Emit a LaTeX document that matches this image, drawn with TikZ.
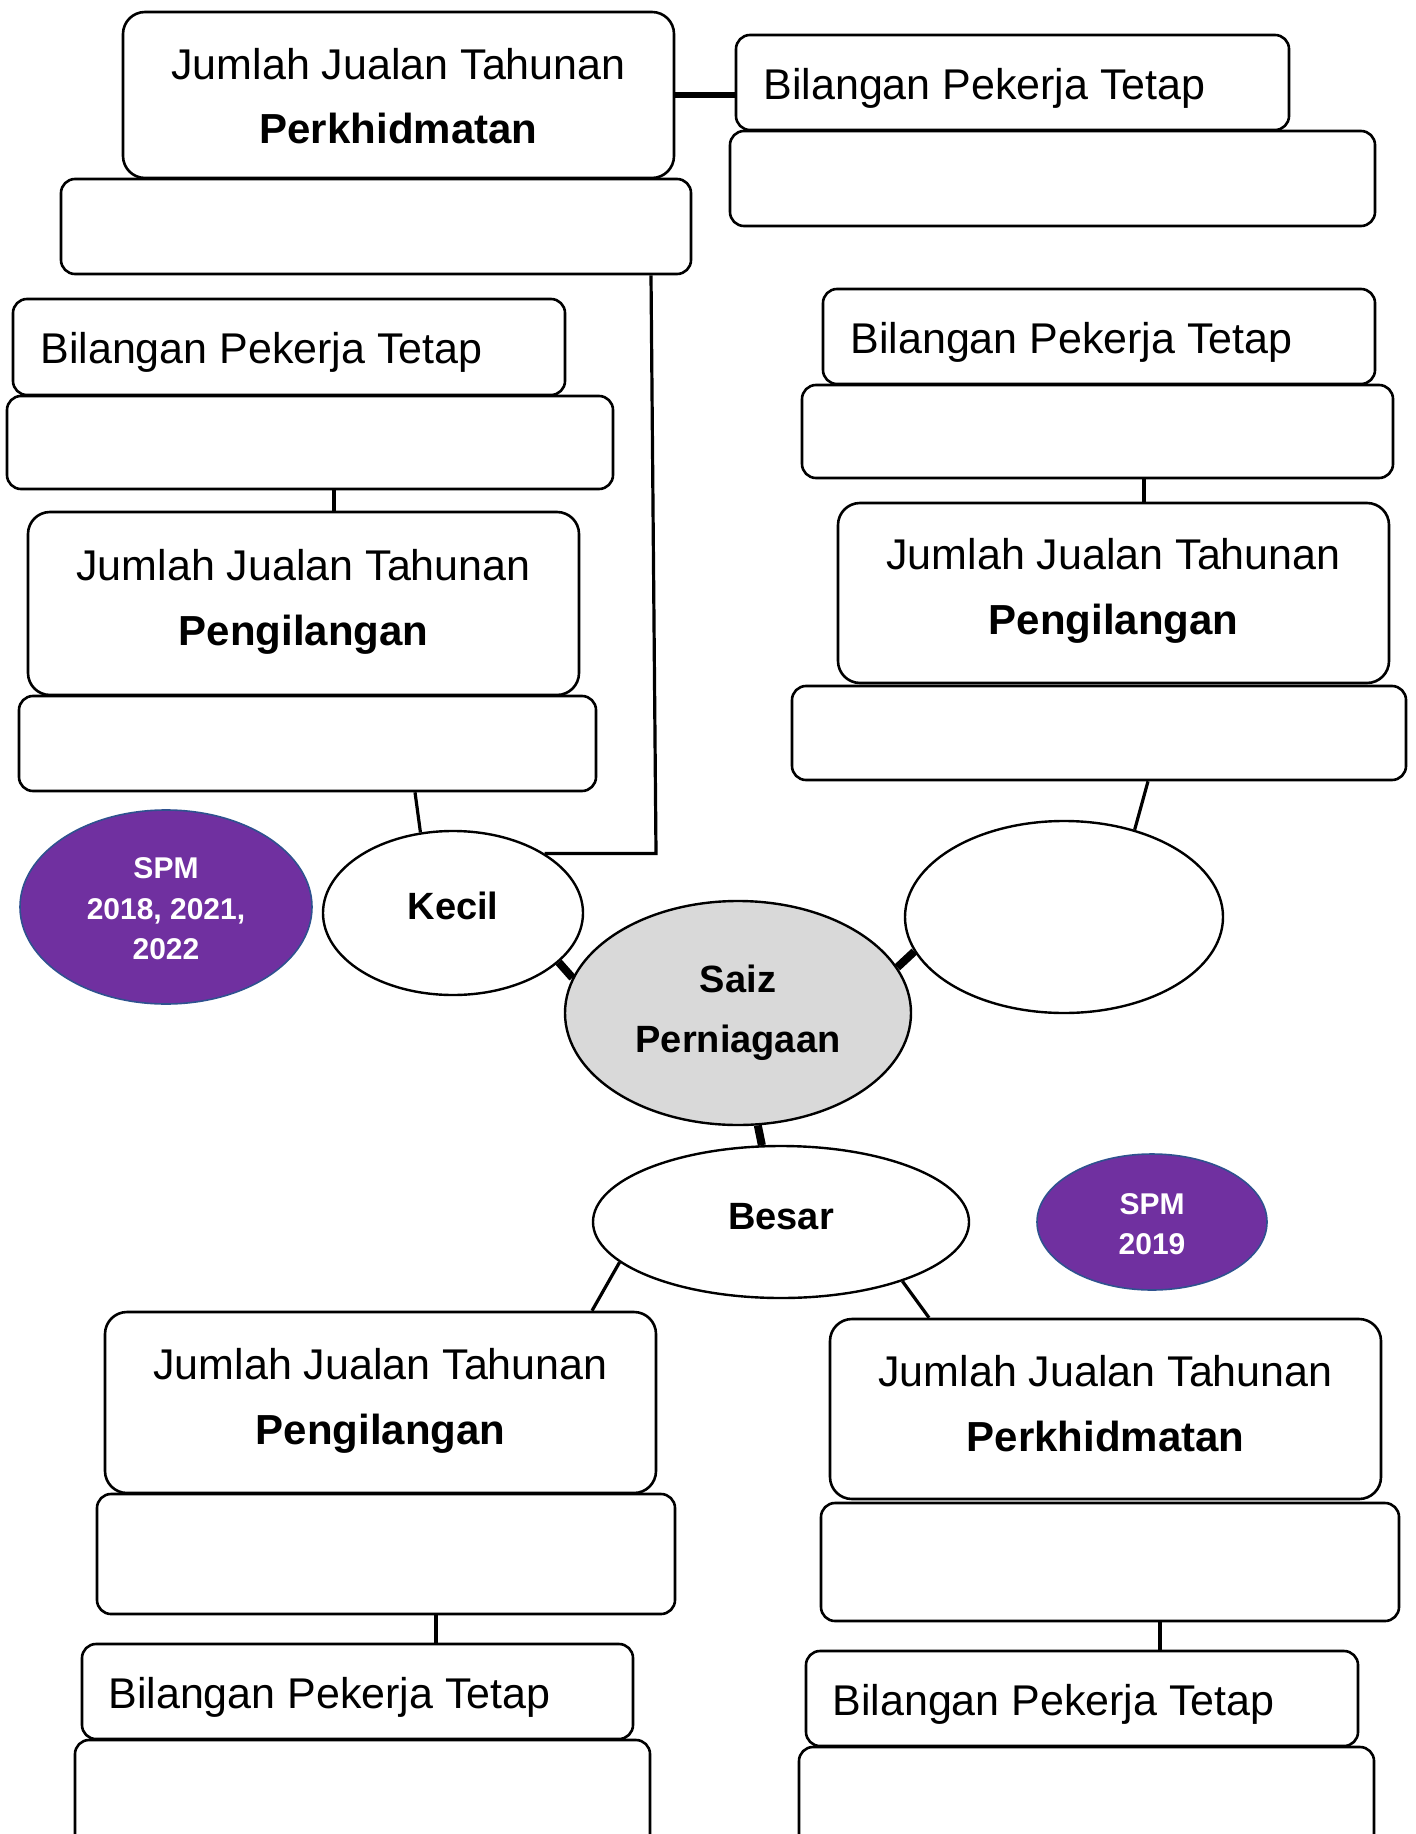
\documentclass[tikz,border=0pt]{standalone}
\usepackage{fontspec}
\setmainfont{Liberation Sans}
\usetikzlibrary{shapes.geometric}
\definecolor{spmpurple}{RGB}{112,48,160}
\definecolor{spmedge}{RGB}{47,82,143}
\definecolor{saizgray}{RGB}{217,217,217}
\begin{document}
\begin{tikzpicture}[x=0.5pt,y=-0.5pt,
  box/.style={draw=black, line width=1.3pt, rounded corners=7pt, fill=white, inner sep=0pt},
  bigbox/.style={box, rounded corners=11pt},
  oval/.style={ellipse, draw=black, line width=1.2pt, fill=white, inner sep=0pt},
  spm/.style={ellipse, draw=spmedge, line width=0.8pt, fill=spmpurple, inner sep=0pt},
  lbl/.style={font=\fontsize{21.5}{26}\selectfont, inner sep=0pt, anchor=base},
  lbll/.style={lbl, anchor=base west},
  blbl/.style={font=\fontsize{21}{26}\selectfont\bfseries, inner sep=0pt, anchor=base},
  olbl/.style={font=\fontsize{19}{23}\selectfont\bfseries, inner sep=0pt, anchor=base},
  wlbl/.style={font=\fontsize{15}{18}\selectfont\bfseries, text=white, inner sep=0pt, anchor=base},
  lk/.style={line width=1.6pt},
  lkm/.style={line width=2.6pt},
  lkb/.style={line width=4pt}
]
\useasboundingbox (0,0) rectangle (1415,1834);

% empty answer boxes
\node[box, minimum width=315pt, minimum height=47.5pt] (A2) at (376,226.5) {};
\node[box, minimum width=322.5pt, minimum height=47.5pt] (B2) at (1052.5,178.5) {};
\node[box, minimum width=303pt, minimum height=46.5pt] (C2) at (310,442.5) {};
\node[box, minimum width=288.5pt, minimum height=47.5pt] (D2) at (307.5,743.5) {};
\node[box, minimum width=295.5pt, minimum height=46.5pt] (E2) at (1097.5,431.5) {};
\node[box, minimum width=307pt, minimum height=47pt] (F2) at (1099,733) {};
\node[box, minimum width=289pt, minimum height=60pt] (G2) at (386,1554) {};
\node[box, minimum width=287.5pt, minimum height=55pt] (H2) at (362.5,1795) {};
\node[box, minimum width=289pt, minimum height=59pt] (I2) at (1110,1562) {};
\node[box, minimum width=287.5pt, minimum height=51.5pt] (J2) at (1086.5,1798.5) {};

% labelled boxes
\node[bigbox, minimum width=275.5pt, minimum height=83pt] (A) at (398.5,95) {};
\node[box, minimum width=276.5pt, minimum height=47.5pt] (B) at (1012.5,82.5) {};
\node[box, minimum width=276pt, minimum height=48pt] (C) at (289,347) {};
\node[bigbox, minimum width=275.5pt, minimum height=91.5pt] (D) at (303.5,603.5) {};
\node[box, minimum width=276pt, minimum height=47.5pt] (E) at (1099,336.5) {};
\node[bigbox, minimum width=275.5pt, minimum height=90pt] (F) at (1113.5,593) {};
\node[bigbox, minimum width=275.5pt, minimum height=90.5pt] (G) at (380.5,1402.5) {};
\node[box, minimum width=275.5pt, minimum height=47.5pt] (H) at (357.5,1691.5) {};
\node[bigbox, minimum width=275.5pt, minimum height=90pt] (I) at (1105.5,1409) {};
\node[box, minimum width=276pt, minimum height=47.5pt] (J) at (1082,1698.5) {};

% texts of labelled boxes
\node[lbl] (At1) at (398.5,80) {Jumlah Jualan Tahunan};
\node[blbl] (At2) at (398.5,144) {Perkhidmatan};
\node[lbll] (Bt) at (763,100) {Bilangan Pekerja Tetap};
\node[lbll] (Ct) at (40,364) {Bilangan Pekerja Tetap};
\node[lbl] (Dt1) at (303.5,580) {Jumlah Jualan Tahunan};
\node[blbl] (Dt2) at (303.5,645) {Pengilangan};
\node[lbll] (Et) at (850,354) {Bilangan Pekerja Tetap};
\node[lbl] (Ft1) at (1113.5,569) {Jumlah Jualan Tahunan};
\node[blbl] (Ft2) at (1113.5,634) {Pengilangan};
\node[lbl] (Gt1) at (380.5,1379) {Jumlah Jualan Tahunan};
\node[blbl] (Gt2) at (380.5,1444) {Pengilangan};
\node[lbll] (Ht) at (108,1708) {Bilangan Pekerja Tetap};
\node[lbl] (It1) at (1105.5,1386) {Jumlah Jualan Tahunan};
\node[blbl] (It2) at (1105.5,1451) {Perkhidmatan};
\node[lbll] (Jt) at (832,1715) {Bilangan Pekerja Tetap};

% ellipses
\node[spm, minimum width=146pt, minimum height=97pt] (spmA) at (166,907) {};
\node[wlbl] (spmAt1) at (166,878) {SPM};
\node[wlbl] (spmAt2) at (166,919) {2018, 2021,};
\node[wlbl] (spmAt3) at (166,959) {2022};
\node[oval, minimum width=130pt, minimum height=82pt] (kecil) at (453,913) {};
\node[olbl] (kecilt) at (453,919) {Kecil};
\node[oval, fill=saizgray, minimum width=173pt, minimum height=112pt] (saiz) at (738,1013) {};
\node[olbl] (saizt1) at (738,992) {Saiz};
\node[olbl] (saizt2) at (738,1052) {Perniagaan};
\node[oval, minimum width=159pt, minimum height=96pt] (rightE) at (1064,917) {};
\node[oval, minimum width=188pt, minimum height=76pt] (besar) at (781,1222) {};
\node[olbl] (besart) at (781,1229) {Besar};
\node[spm, minimum width=115pt, minimum height=68pt] (spmB) at (1152,1222) {};
\node[wlbl] (spmBt1) at (1152,1214) {SPM};
\node[wlbl] (spmBt2) at (1152,1254) {2019};

% connector x positions
\coordinate (lvT) at (651,0);
\coordinate (lvB) at (656,0);
\coordinate (xC) at (334,0);
\coordinate (xD) at (415,0);
\coordinate (xE) at (1144,0);
\coordinate (xF) at (1148,0);
\coordinate (xG) at (592,0);
\coordinate (xI) at (929,0);
\coordinate (xH) at (436,0);
\coordinate (xJ) at (1160,0);

% connectors
\draw[lkm] (A.east) -- (A.east -| B.west);
\draw[lk] (A2.south -| lvT) -- (kecil.33 -| lvB) -- (kecil.33);
\draw[lk] (C2.south -| xC) -- (D.north -| xC);
\draw[lk] (D2.south -| xD) -- (kecil.112);
\draw[lk] (E2.south -| xE) -- (F.north -| xE);
\draw[lk] (F2.south -| xF) -- (rightE.51);
\draw[lkb] (kecil.-25) -- (saiz.168.7);
\draw[lkb] (saiz.16.8) -- (rightE.-167.3);
\draw[lkb] (saiz.-80) -- (besar.104);
\draw[lk] (besar.-166.3) -- (G.north -| xG);
\draw[lk] (besar.-26.3) -- (I.north -| xI);
\draw[lk] (G2.south -| xH) -- (H.north -| xH);
\draw[lk] (I2.south -| xJ) -- (J.north -| xJ);
\end{tikzpicture}
\end{document}
